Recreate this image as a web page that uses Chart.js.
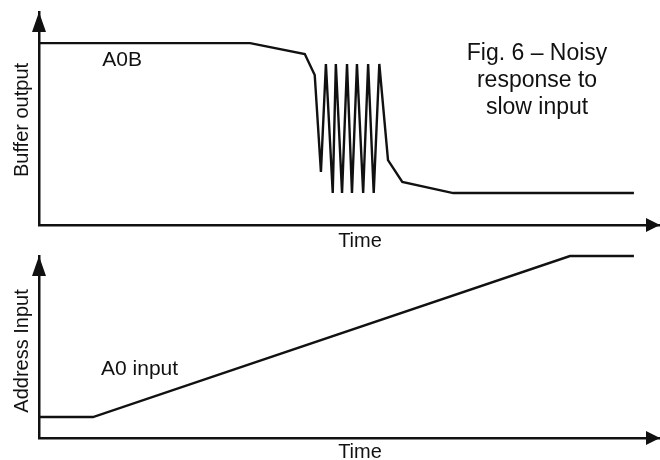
<!DOCTYPE html>
<html>
<head>
<meta charset="utf-8">
<script src="https://cdn.jsdelivr.net/npm/chart.js@4.4.0/dist/chart.umd.min.js"></script>
<style>
  html, body { margin: 0; padding: 0; background: #fff; overflow: hidden; width: 660px; height: 460px; }
  .wrap { position: absolute; left: 0; width: 660px; }
  #top { top: 0; height: 255px; }
  #bot { top: 240px; height: 220px; }
</style>
</head>
<body>
<div class="wrap" id="top"><canvas id="c1"></canvas></div>
<div class="wrap" id="bot"><canvas id="c2"></canvas></div>
<script>
// ---- data (time in arbitrary units, level in arbitrary units) ----
const bufferTime  = [0, 34.0, 42.8, 44.4, 45.4, 46.2, 47.3, 47.8, 48.8, 49.6, 50.4, 51.2, 52.2, 53.0, 53.9, 54.8, 56.2, 58.5, 66.7, 95.8];
const bufferLevel = [8.54, 8.54, 8.03, 7.04, 2.49, 7.56, 1.50, 7.56, 1.50, 7.56, 1.50, 7.56, 1.50, 7.56, 1.50, 7.56, 3.05, 2.02, 1.50, 1.50];
const inputTime   = [0, 8.7, 85.5, 95.8];
const inputLevel  = [1.15, 1.15, 10.0, 10.0];

const topAxisTitles = { x: 'Time', y: 'Buffer output' };
const botAxisTitles = { x: 'Time', y: 'Address Input' };
const bufferLabel = 'A0B';
const inputLabel = 'A0 input';
const figTitle = ['Fig. 6 \u2013 Noisy', 'response to', 'slow input'];

const FONT = "'Liberation Sans', Arial, Helvetica, sans-serif";
const INK = '#111';

function pts(xs, ys) { return xs.map((x, i) => ({ x: x, y: ys[i] })); }

// plugin: arrowheads on axes, axis titles, annotation texts at data coordinates
const decor = {
  id: 'decor',
  afterDraw(chart, args, opts) {
    const { ctx, chartArea: a, scales } = chart;
    ctx.save();
    ctx.fillStyle = INK;
    // y arrow
    ctx.beginPath();
    ctx.moveTo(a.left, a.top);
    ctx.lineTo(a.left - 7, a.top + 20);
    ctx.lineTo(a.left + 7, a.top + 20);
    ctx.closePath();
    ctx.fill();
    // x arrow
    ctx.beginPath();
    ctx.moveTo(a.right, a.bottom);
    ctx.lineTo(a.right - 14, a.bottom - 7);
    ctx.lineTo(a.right - 14, a.bottom + 7);
    ctx.closePath();
    ctx.fill();
    ctx.textAlign = 'center';
    ctx.textBaseline = 'middle';
    // axis titles
    const at = opts.axisTitles;
    ctx.font = at.size + 'px ' + FONT;
    ctx.fillText(at.x, a.left + at.xdx, a.bottom + at.xdy);
    ctx.save();
    ctx.translate(a.left + at.ydx, a.top + at.ydy);
    ctx.rotate(-Math.PI / 2);
    ctx.fillText(at.y, 0, 0);
    ctx.restore();
    // annotation texts
    (opts.texts || []).forEach(t => {
      ctx.font = t.size + 'px ' + FONT;
      const px = scales.x.getPixelForValue(t.x);
      const py = scales.y.getPixelForValue(t.y);
      const lines = Array.isArray(t.text) ? t.text : [t.text];
      lines.forEach((ln, i) => ctx.fillText(ln, px, py + i * (t.lh || 0)));
    });
    ctx.restore();
  }
};

function makeOptions(axisTitles, pad, texts) {
  const axisBase = {
    type: 'linear',
    min: 0,
    ticks: { display: false },
    grid: { display: false, drawTicks: false },
    border: { display: true, color: INK, width: 2.5 },
    title: { display: false }
  };
  return {
    responsive: true,
    maintainAspectRatio: false,
    animation: false,
    layout: { padding: pad },
    plugins: { legend: { display: false }, tooltip: { enabled: false }, decor: { texts: texts, axisTitles: axisTitles } },
    scales: {
      x: Object.assign({}, axisBase, { max: 100 }),
      y: Object.assign({}, axisBase, { max: 10 })
    }
  };
}

const lineStyle = { borderColor: INK, borderWidth: 2.4, pointRadius: 0, tension: 0, fill: false, clip: 4 };

new Chart(document.getElementById('c1'), {
  type: 'line',
  data: { datasets: [Object.assign({ label: bufferLabel, data: pts(bufferTime, bufferLevel) }, lineStyle)] },
  options: makeOptions(
    Object.assign({ size: 20, xdx: 321, xdy: 16, ydx: -17, ydy: 108 }, topAxisTitles),
    { top: 12, left: 39, right: 0, bottom: 30 },
    [
      { text: bufferLabel, x: 13.4, y: 7.75, size: 21 },
      { text: figTitle, x: 80.2, y: 8.06, size: 23, lh: 27 }
    ]),
  plugins: [decor]
});

new Chart(document.getElementById('c2'), {
  type: 'line',
  data: { datasets: [Object.assign({ label: inputLabel, data: pts(inputTime, inputLevel) }, lineStyle)] },
  options: makeOptions(
    Object.assign({ size: 20, xdx: 321, xdy: 14, ydx: -17, ydy: 95 }, botAxisTitles),
    { top: 16, left: 39, right: 0, bottom: 22 },
    [
      { text: inputLabel, x: 16.2, y: 3.8, size: 21 }
    ]),
  plugins: [decor]
});
</script>
</body>
</html>
